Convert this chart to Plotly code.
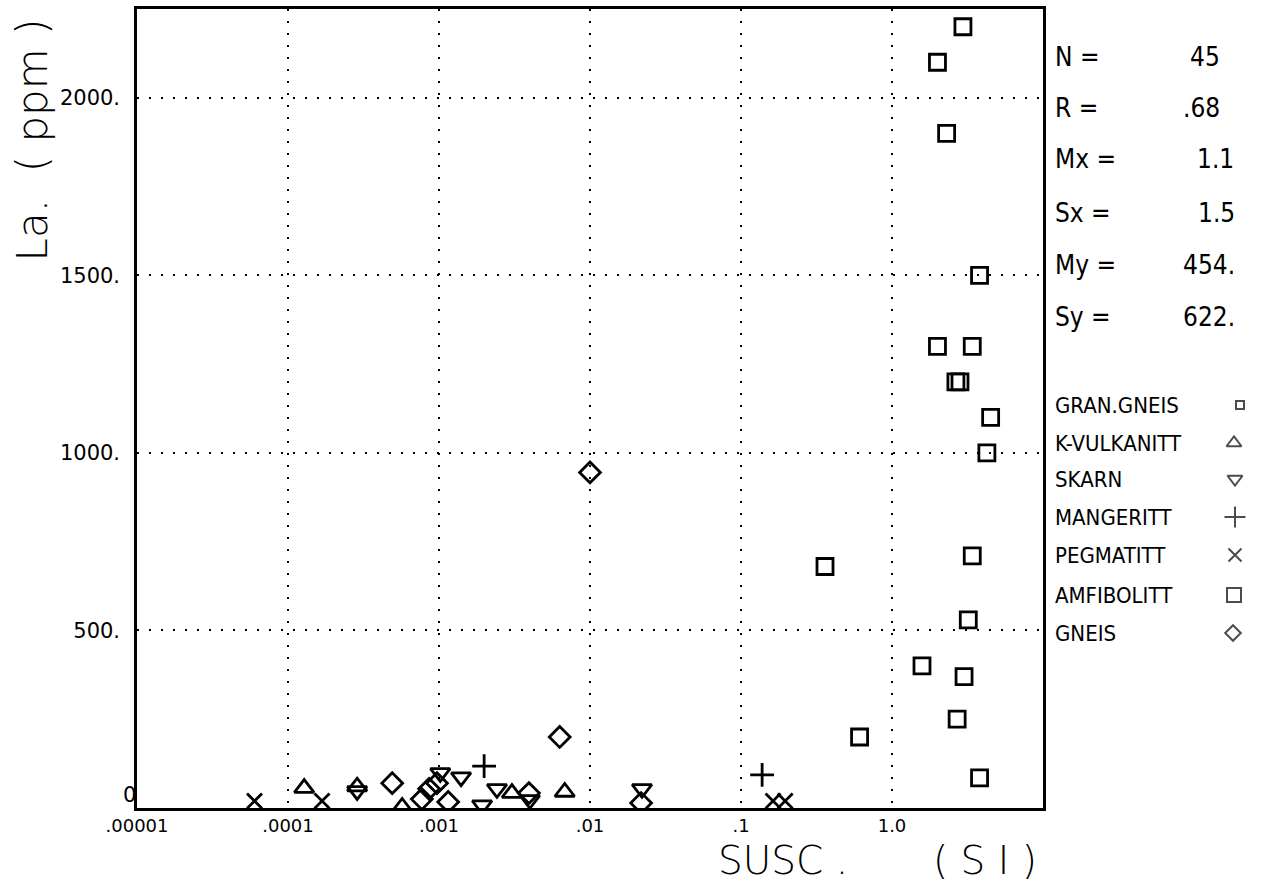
import plotly.graph_objects as go

# --- data: susceptibility (SI) vs La (ppm) by rock type ---
amf_x = [2.95, 2.0, 2.3, 3.8, 2.0, 3.4, 2.65, 2.82, 4.5, 4.25, 3.4, 0.36, 3.2, 1.58, 3.0, 2.7, 0.61, 3.8]
amf_y = [2200, 2100, 1900, 1500, 1300, 1300, 1200, 1200, 1100, 1000, 710, 680, 530, 400, 370, 250, 200, 85]

kvul_x = [1.28e-4, 2.87e-4, 5.7e-4, 3.04e-3, 6.8e-3]
kvul_y = [56, 60, 3, 42, 45]

skarn_x = [2.87e-4, 1.02e-3, 1.4e-3, 1.93e-3, 2.42e-3, 4.0e-3, 0.0221]
skarn_y = [48, 99, 87, 8, 54, 23, 54]

mang_x = [1.99e-3, 0.138]
mang_y = [118, 93]

peg_x = [6.0e-5, 1.68e-4, 0.163, 0.196]
peg_y = [20, 20, 20, 20]

gneis_x = [4.9e-4, 7.7e-4, 8.6e-4, 9.7e-4, 1.15e-3, 3.94e-3, 6.3e-3, 0.0100, 0.0218]
gneis_y = [70, 25, 54, 70, 17, 42, 200, 945, 14]

x_tickvals = [1e-5, 1e-4, 1e-3, 1e-2, 1e-1, 1.0]
x_ticktext = [".00001", ".0001", ".001", ".01", ".1", "1.0"]
y_tickvals = [500, 1000, 1500, 2000]
y_ticktext = ["500.", "1000.", "1500.", "2000."]
y_origin_label = "0"

stat_names = ["N =", "R =", "Mx =", "Sx =", "My =", "Sy ="]
stat_values = ["45", ".68", "1.1", "1.5", "454.", "622."]

legend_names = ["GRAN.GNEIS", "K-VULKANITT", "SKARN", "MANGERITT", "PEGMATITT", "AMFIBOLITT", "GNEIS"]
legend_symbols = ["square-open", "triangle-up-open", "triangle-down-open", "cross-thin",
                  "x-thin", "square-open", "diamond-open"]
legend_sizes = [8, 13, 13, 15, 13, 14, 12]

# --- page geometry (pixels) ---
W, H = 1264, 884
PL, PR, PT, PB = 137, 1043, 9, 808

NARROW = "Liberation Sans Narrow, DejaVu Sans Condensed, Arial Narrow, sans-serif"
PLAIN = "DejaVu Sans, sans-serif"
INK = "black"
CLEAR = "rgba(0,0,0,0)"

fig = go.Figure()


def series(x, y, symbol, size, lw=2.8):
    fig.add_trace(go.Scatter(
        x=x, y=y, mode="markers", xaxis="x", yaxis="y",
        marker=dict(symbol=symbol, size=size, color=INK,
                    line=dict(color=INK, width=lw)),
        showlegend=False, hoverinfo="x+y",
    ))


series(amf_x, amf_y, "square-open", 16)
series(kvul_x, kvul_y, "triangle-up-open", 17)
series(skarn_x, skarn_y, "triangle-down-open", 17)
series(mang_x, mang_y, "cross-thin", 17)
series(peg_x, peg_y, "x-thin", 15)
series(gneis_x, gneis_y, "diamond-open", 16)

# legend symbols on a pixel-space overlay
leg_rows_y = [405, 443, 479, 517, 555, 595, 633]
leg_sym_x = [1240, 1234, 1235, 1235, 1235, 1234, 1233]
fig.add_trace(go.Scatter(
    x=leg_sym_x, y=leg_rows_y, mode="markers", xaxis="x2", yaxis="y2",
    marker=dict(symbol=legend_symbols, size=legend_sizes, color=INK,
                line=dict(color=INK, width=2)),
    showlegend=False, hoverinfo="skip",
))

annotations = []
stat_rows_y = [57, 108, 159, 213, 265, 317]
stat_val_x = [1222, 1222, 1236, 1237, 1237, 1237]
for name, val, yy, vx in zip(stat_names, stat_values, stat_rows_y, stat_val_x):
    annotations.append(dict(x=1053, y=yy, xref="x2", yref="y2", text=name, showarrow=False,
                            xanchor="left", yanchor="middle",
                            font=dict(family=NARROW, size=26, color=INK)))
    annotations.append(dict(x=vx, y=yy, xref="x2", yref="y2", text=val, showarrow=False,
                            xanchor="right", yanchor="middle",
                            font=dict(family=NARROW, size=26, color=INK)))
for name, yy in zip(legend_names, leg_rows_y):
    annotations.append(dict(x=1053, y=yy, xref="x2", yref="y2", text=name, showarrow=False,
                            xanchor="left", yanchor="middle",
                            font=dict(family=NARROW, size=22, color=INK)))

# origin label of the La axis, sitting in the corner above the axis line
annotations.append(dict(x=PL / W, y=1 - PB / H, xref="paper", yref="paper", text=y_origin_label,
                        showarrow=False, xanchor="right", yanchor="bottom", borderpad=0,
                        font=dict(family=PLAIN, size=21, color=INK)))

# axis titles (paper coordinates)
title_font = dict(family=PLAIN, size=39, color=INK, weight=200)
annotations.append(dict(x=717 / W, y=0, xref="paper", yref="paper", text="SUSC .",
                        showarrow=False, xanchor="left", yanchor="bottom",
                        borderpad=0, font=title_font))
annotations.append(dict(x=932 / W, y=0, xref="paper", yref="paper", text="( S I )",
                        showarrow=False, xanchor="left", yanchor="bottom",
                        borderpad=0, font=title_font))
annotations.append(dict(x=6 / W, y=1 - 140 / H, xref="paper", yref="paper", text="La.  ( ppm )",
                        showarrow=False, xanchor="left", yanchor="middle", textangle=-90,
                        borderpad=0, font=dict(family=PLAIN, size=42, color=INK, weight=200)))

fig.update_layout(
    width=W, height=H,
    margin=dict(l=0, r=0, t=0, b=0),
    paper_bgcolor="white", plot_bgcolor=CLEAR,
    xaxis=dict(
        type="log", range=[-5, 1],
        domain=[PL / W, PR / W], anchor="y", automargin=False,
        tickvals=x_tickvals, ticktext=x_ticktext, ticks="",
        tickfont=dict(family=PLAIN, size=18, color=INK),
        showgrid=True, gridcolor=INK, gridwidth=2, griddash="2px,10px",
        showline=True, linecolor=INK, linewidth=2.5, mirror=True,
        zeroline=False, ticklabelstandoff=0,
    ),
    yaxis=dict(
        range=[0, 2250],
        domain=[1 - PB / H, 1 - PT / H], anchor="x", automargin=False,
        tickvals=y_tickvals, ticktext=y_ticktext, ticks="",
        tickfont=dict(family=PLAIN, size=21, color=INK),
        showgrid=True, gridcolor=INK, gridwidth=2, griddash="2px,10px",
        showline=True, linecolor=INK, linewidth=2.5, mirror=True,
        zeroline=False, ticklabelstandoff=10,
    ),
    xaxis2=dict(domain=[0, 1], range=[0, W], anchor="y2", visible=False,
                fixedrange=True, automargin=False),
    yaxis2=dict(domain=[0, 1], range=[H, 0], anchor="x2", visible=False,
                fixedrange=True, automargin=False),
    annotations=annotations,
    showlegend=False,
)

fig.write_html("out.html")
